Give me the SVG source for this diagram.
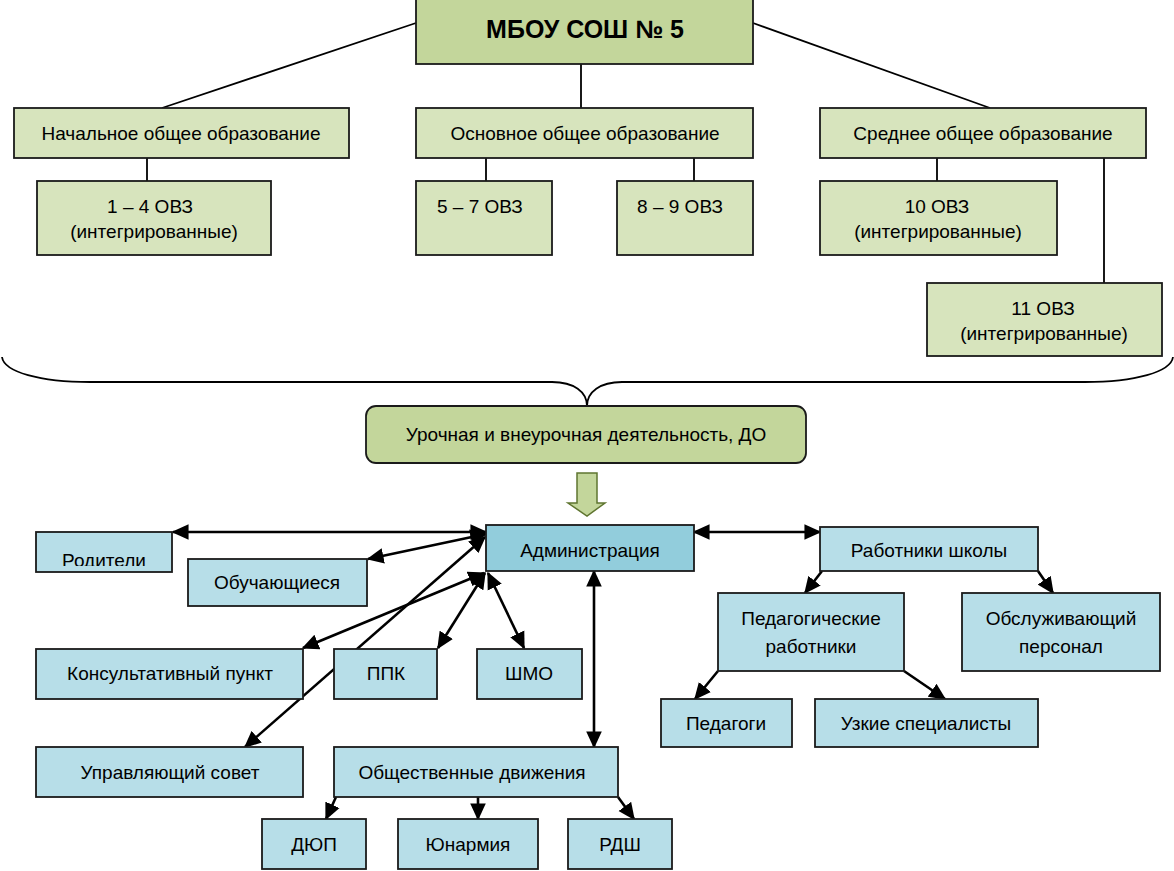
<svg xmlns="http://www.w3.org/2000/svg" width="1174" height="871" viewBox="0 0 1174 871">
<style>
text{font-family:"Liberation Sans",Arial,sans-serif;font-size:19px;fill:#000;text-anchor:middle}
.g1{fill:#c3d69b;stroke:#1a1a1a;stroke-width:1.8}
.g2{fill:#d7e4bd;stroke:#1a1a1a;stroke-width:1.8}
.b1{fill:#b7dee8;stroke:#1a1a1a;stroke-width:1.8}
.b2{fill:#92cddc;stroke:#1a1a1a;stroke-width:1.8}
.ln{stroke:#000;stroke-width:1.8;fill:none}
.ar{stroke:#000;stroke-width:2.6;fill:none;marker-end:url(#ah)}
.ab{stroke:#000;stroke-width:2.6;fill:none;marker-end:url(#ah);marker-start:url(#ah)}
</style>
<defs>
<marker id="ah" viewBox="0 0 12 12" refX="11" refY="6" markerWidth="17" markerHeight="17" markerUnits="userSpaceOnUse" orient="auto-start-reverse">
<path d="M0,0.5 L12,6 L0,11.5 z" fill="#000"/>
</marker>
<clipPath id="clipRod"><rect x="36" y="532" width="136" height="34"/></clipPath>
</defs>
<rect width="1174" height="871" fill="#fff"/>

<g id="connectors">
<line class="ln" x1="416" y1="23" x2="162" y2="108"/>
<line class="ln" x1="581" y1="64" x2="581" y2="108"/>
<line class="ln" x1="753" y1="23" x2="990" y2="108"/>
<line class="ln" x1="147" y1="158" x2="147" y2="181"/>
<line class="ln" x1="486" y1="158" x2="486" y2="181"/>
<line class="ln" x1="694" y1="158" x2="694" y2="181"/>
<line class="ln" x1="937" y1="158" x2="937" y2="181"/>
<line class="ln" x1="1104" y1="158" x2="1104" y2="283"/>
<path class="ln" stroke-width="2" d="M2,357 C4,372 40,382 90,382 L552,382 C574,382 587,392 587,406 C587,392 600,382 622,382 L1085,382 C1135,382 1171,372 1173,357"/>
<path d="M577,473 L597,473 L597,503 L605,503 L587,516 L568,503 L577,503 Z" fill="#c3d69b" stroke="#5f7530" stroke-width="1.5"/>
<line class="ab" x1="173" y1="532" x2="486" y2="532"/>
<line class="ab" x1="368" y1="559" x2="486" y2="534"/>
<line class="ab" x1="245" y1="747" x2="485" y2="537"/>
<line class="ab" x1="303" y1="648" x2="484" y2="573"/>
<line class="ab" x1="438" y1="648" x2="485" y2="573"/>
<line class="ab" x1="524" y1="648" x2="488" y2="573"/>
<line class="ab" x1="594" y1="571" x2="594" y2="747"/>
<line class="ab" x1="694" y1="532" x2="820" y2="532"/>
<line class="ar" x1="822" y1="571" x2="805" y2="593"/>
<line class="ar" x1="1038" y1="571" x2="1053" y2="593"/>
<line class="ar" x1="718" y1="671" x2="695" y2="699"/>
<line class="ar" x1="904" y1="671" x2="945" y2="699"/>
<line class="ar" x1="336" y1="797" x2="326" y2="819"/>
<line class="ar" x1="478" y1="797" x2="478" y2="819"/>
<line class="ar" x1="618" y1="797" x2="634" y2="819"/>
</g>

<g id="n-mbou"><rect class="g1" x="416" y="-3" width="337" height="67"/><text x="585" y="38" style="font-size:25px;font-weight:bold">МБОУ СОШ № 5</text></g>
<g id="n-nach"><rect class="g2" x="14" y="108" width="335" height="50"/><text x="181" y="140">Начальное общее образование</text></g>
<g id="n-osn"><rect class="g2" x="416" y="108" width="337" height="50"/><text x="585" y="140">Основное общее образование</text></g>
<g id="n-sred"><rect class="g2" x="820" y="108" width="326" height="50"/><text x="983" y="140">Среднее общее образование</text></g>
<g id="n-14"><rect class="g2" x="37" y="181" width="234" height="74"/><text x="150" y="213">1 – 4 ОВЗ</text><text x="154" y="238">(интегрированные)</text></g>
<g id="n-57"><rect class="g2" x="416" y="181" width="136" height="74"/><text x="437" y="213" style="text-anchor:start">5 – 7 ОВЗ</text></g>
<g id="n-89"><rect class="g2" x="617" y="181" width="136" height="74"/><text x="680" y="213">8 – 9 ОВЗ</text></g>
<g id="n-10"><rect class="g2" x="820" y="181" width="237" height="74"/><text x="937" y="213">10  ОВЗ</text><text x="938" y="238">(интегрированные)</text></g>
<g id="n-11"><rect class="g2" x="927" y="283" width="235" height="73"/><text x="1043" y="315">11  ОВЗ</text><text x="1044" y="340">(интегрированные)</text></g>
<g id="n-uroch"><rect class="g1" x="366" y="406" width="440" height="57" rx="10"/><text x="586" y="441">Урочная и внеурочная деятельность, ДО</text></g>

<g id="n-admin"><rect class="b2" x="486" y="525" width="208" height="46"/><text x="590" y="557">Администрация</text></g>
<g id="n-rod"><rect class="b1" x="36" y="532" width="136" height="40"/><text x="104" y="567" clip-path="url(#clipRod)">Родители</text></g>
<g id="n-obuch"><rect class="b1" x="188" y="559" width="179" height="47"/><text x="277" y="589">Обучающиеся</text></g>
<g id="n-kons"><rect class="b1" x="36" y="649" width="267" height="50"/><text x="170" y="680">Консультативный пункт</text></g>
<g id="n-ppk"><rect class="b1" x="334" y="649" width="103" height="50"/><text x="386" y="680">ППК</text></g>
<g id="n-shmo"><rect class="b1" x="477" y="649" width="105" height="50"/><text x="529" y="680">ШМО</text></g>
<g id="n-upr"><rect class="b1" x="36" y="747" width="267" height="50"/><text x="170" y="779">Управляющий совет</text></g>
<g id="n-obsh"><rect class="b1" x="334" y="747" width="284" height="50"/><text x="472" y="779">Общественные движения</text></g>
<g id="n-dyup"><rect class="b1" x="262" y="819" width="104" height="50"/><text x="314" y="851">ДЮП</text></g>
<g id="n-yun"><rect class="b1" x="398" y="819" width="140" height="50"/><text x="468" y="851">Юнармия</text></g>
<g id="n-rdsh"><rect class="b1" x="568" y="819" width="104" height="50"/><text x="620" y="851">РДШ</text></g>
<g id="n-rab"><rect class="b1" x="820" y="527" width="218" height="44"/><text x="929" y="557">Работники школы</text></g>
<g id="n-ped"><rect class="b1" x="718" y="593" width="186" height="78"/><text x="811" y="625">Педагогические</text><text x="811" y="653">работники</text></g>
<g id="n-obsl"><rect class="b1" x="962" y="593" width="198" height="78"/><text x="1061" y="625">Обслуживающий</text><text x="1061" y="653">персонал</text></g>
<g id="n-pedag"><rect class="b1" x="661" y="699" width="131" height="48"/><text x="726" y="730">Педагоги</text></g>
<g id="n-uzk"><rect class="b1" x="815" y="699" width="223" height="48"/><text x="926" y="730">Узкие специалисты</text></g>
</svg>
